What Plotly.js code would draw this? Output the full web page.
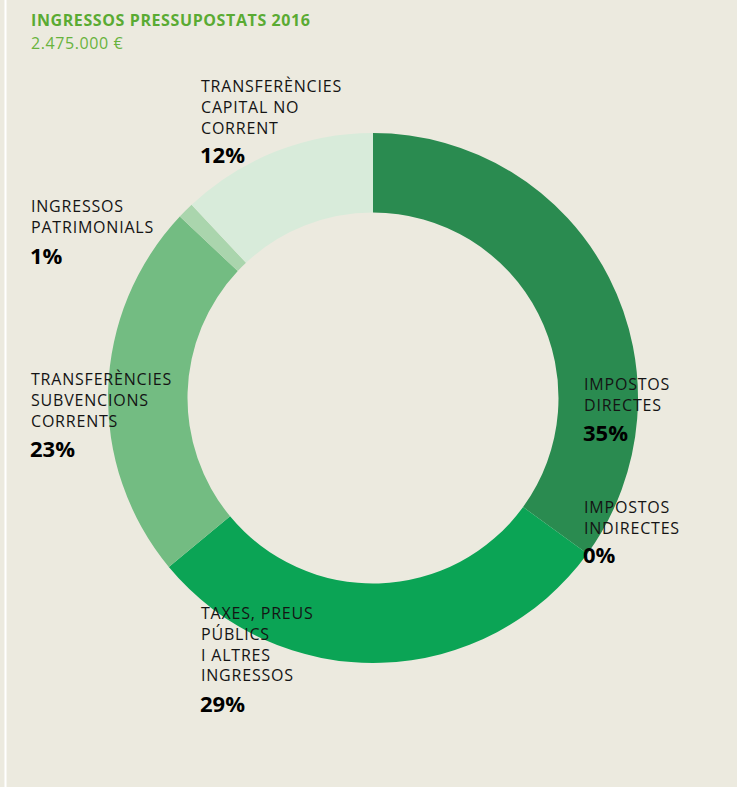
<!DOCTYPE html>
<html>
<head>
<meta charset="utf-8">
<script src="https://cdn.plot.ly/plotly-3.0.1.min.js"></script>
<style>
  html, body { margin: 0; padding: 0; background: #eceadf; }
  #chart { width: 737px; height: 787px; }
</style>
</head>
<body>
<div id="chart"></div>
<script>
const W = 737;
const H = 787;

// data, clockwise from 12 o'clock
const categories = [
  'IMPOSTOS<br>DIRECTES',
  'IMPOSTOS<br>INDIRECTES',
  'TAXES, PREUS<br>PÚBLICS<br>I ALTRES<br>INGRESSOS',
  'TRANSFERÈNCIES<br>SUBVENCIONS<br>CORRENTS',
  'INGRESSOS<br>PATRIMONIALS',
  'TRANSFERÈNCIES<br>CAPITAL NO<br>CORRENT'
];
const shares = [35, 0, 29, 23, 1, 12];
const sliceColors = ['#2a8b50', '#1f7a45', '#0ba455', '#73bc82', '#aad5ad', '#d8ebda'];

const chartTitle = 'INGRESSOS PRESSUPOSTATS 2016';
const chartTotal = '2.475.000 €';

// label placement in pixels: left x, centre of text block, centre of percentage
const labelSpots = [
  [585, 394, 432],
  [585, 517, 554],
  [202, 644, 703],
  [32, 400, 448],
  [32, 217, 255],
  [202, 107, 154]
];

const py = (p) => 1 - p / H;
const px = (p) => p / W;
const spaced = (t, ls) => t.split('<br>').map(l => `<span style="letter-spacing:${ls}px">${l}</span>`).join('<br>');

const cx = 373, cy = 398, r = 265;

const trace = {
  type: 'pie',
  labels: categories,
  values: shares,
  sort: false,
  direction: 'clockwise',
  rotation: 0,
  hole: 0.7,
  textinfo: 'none',
  hoverinfo: 'label+percent',
  marker: { colors: sliceColors, line: { width: 0 } },
  domain: { x: [px(cx - r), px(cx + r)], y: [py(cy + r), py(cy - r)] },
  showlegend: false
};

const annotations = [];
categories.forEach((c, i) => {
  const s = labelSpots[i];
  annotations.push({
    xref: 'paper', yref: 'paper', x: px(s[0] - 2), y: py(s[1]),
    xanchor: 'left', yanchor: 'middle', align: 'left', showarrow: false, borderpad: 0,
    text: spaced(c, 0.8), font: { family: 'Open Sans', size: 16, color: '#141414' }
  });
  annotations.push({
    xref: 'paper', yref: 'paper', x: px(s[0] - 3), y: py(s[2]),
    xanchor: 'left', yanchor: 'middle', align: 'left', valign: 'middle', showarrow: false,
    borderpad: 0,
    text: '<b>' + shares[i] + '%</b>', font: { family: 'Open Sans', size: 22, color: '#000000', weight: 800 }
  });
});

annotations.push({
  xref: 'paper', yref: 'paper', x: px(30), y: py(20), xanchor: 'left', yanchor: 'middle',
  showarrow: false, borderpad: 0, text: '<b>' + spaced(chartTitle, 0.6) + '</b>',
  font: { family: 'Open Sans', size: 16, color: '#5aab33' }
});
annotations.push({
  xref: 'paper', yref: 'paper', x: px(30), y: py(43), xanchor: 'left', yanchor: 'middle',
  showarrow: false, borderpad: 0, text: spaced(chartTotal, 0.6),
  font: { family: 'Open Sans', size: 16, color: '#68b33c' }
});

const layout = {
  width: W,
  height: H,
  margin: { l: 0, r: 0, t: 0, b: 0 },
  paper_bgcolor: '#eceadf',
  plot_bgcolor: '#eceadf',
  annotations: annotations,
  shapes: [{
    type: 'line', xref: 'paper', yref: 'paper',
    x0: px(5.5), x1: px(5.5), y0: 0, y1: 1,
    line: { color: '#ffffff', width: 2 }
  }]
};

Plotly.newPlot('chart', [trace], layout, { displayModeBar: false, staticPlot: true });
</script>
</body>
</html>
